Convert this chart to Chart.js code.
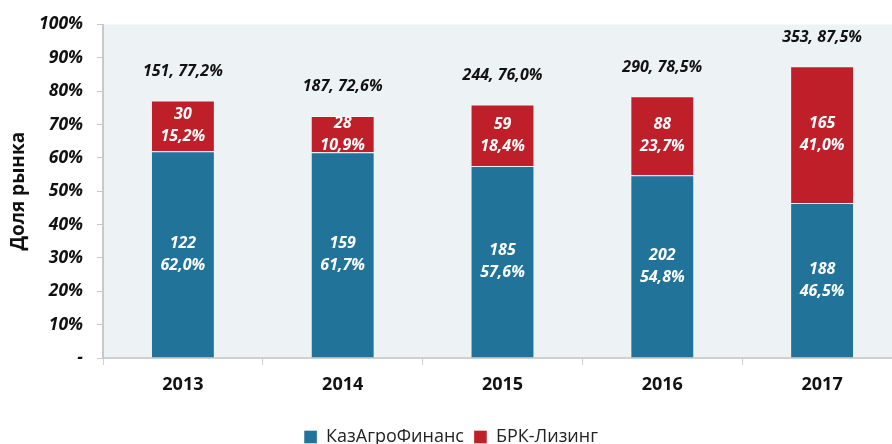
<!DOCTYPE html>
<html lang="ru">
<head>
<meta charset="utf-8" />
<title>Доля рынка — КазАгроФинанс и БРК-Лизинг</title>
<script src="https://cdn.jsdelivr.net/npm/chart.js@4.4.1/dist/chart.umd.min.js"></script>
<style>
  html, body { margin: 0; padding: 0; background: #fff; overflow: hidden; }
  #wrap { width: 902px; height: 456px; position: relative; }
</style>
</head>
<body>
<div id="wrap"><canvas id="c"></canvas></div>
<script>
// данные с картинки
const years = ['2013', '2014', '2015', '2016', '2017'];
const kafShare = [62.0, 61.7, 57.6, 54.8, 46.5];
const brkShare = [15.2, 10.9, 18.4, 23.7, 41.0];
const kafCount = [122, 159, 185, 202, 188];
const brkCount = [30, 28, 59, 88, 165];
const totalCount = [151, 187, 244, 290, 353];
const totalShare = [77.2, 72.6, 76.0, 78.5, 87.5];
const yTicks = [0, 10, 20, 30, 40, 50, 60, 70, 80, 90, 100];

const BLUE = '#21739a';
const RED = '#be1f29';
const FONT = "'Open Sans', 'DejaVu Sans', sans-serif";
const pct = (v) => v.toFixed(1).replace('.', ',') + '%';

const plotBg = {
  id: 'plotBg',
  beforeDraw(chart) {
    const { ctx, chartArea: a } = chart;
    ctx.save();
    ctx.fillStyle = '#edf2f5';
    ctx.fillRect(a.left, a.top, a.right - a.left, a.bottom - a.top);
    ctx.restore();
  },
};

const barLabels = {
  id: 'barLabels',
  afterDatasetsDraw(chart) {
    const { ctx } = chart;
    ctx.save();
    ctx.textAlign = 'center';
    ctx.textBaseline = 'middle';
    ctx.font = `italic bold 16px ${FONT}`;
    ctx.fillStyle = '#fff';
    const counts = [kafCount, brkCount];
    const shares = [kafShare, brkShare];
    chart.data.datasets.forEach((ds, di) => {
      chart.getDatasetMeta(di).data.forEach((bar, i) => {
        const mid = (bar.y + bar.base) / 2;
        ctx.fillText(String(counts[di][i]), bar.x, mid - 11);
        ctx.fillText(pct(shares[di][i]), bar.x, mid + 11);
      });
    });
    ctx.fillStyle = '#111';
    const top = chart.getDatasetMeta(1).data;
    top.forEach((bar, i) => {
      ctx.fillText(`${totalCount[i]}, ${pct(totalShare[i])}`, bar.x, bar.y - 29);
    });
    ctx.restore();
  },
};

new Chart(document.getElementById('c'), {
  type: 'bar',
  data: {
    labels: years,
    datasets: [
      { label: 'КазАгроФинанс', data: kafShare, backgroundColor: BLUE, borderColor: 'rgba(255,255,255,0.35)', borderWidth: 1 },
      { label: 'БРК-Лизинг', data: brkShare, backgroundColor: RED, borderColor: 'rgba(255,255,255,0.35)', borderWidth: 1 },
    ],
  },
  options: {
    responsive: true,
    maintainAspectRatio: false,
    animation: false,
    layout: { padding: { top: 23, left: 0, right: 0, bottom: 0 } },
    datasets: { bar: { categoryPercentage: 1, barPercentage: 0.4 } },
    plugins: {
      tooltip: { enabled: false },
      legend: {
        position: 'bottom',
        labels: {
          boxWidth: 13, boxHeight: 13, padding: 10,
          color: '#222',
          font: { family: FONT, size: 18 },
        },
      },
    },
    scales: {
      x: {
        stacked: true,
        grid: { display: true, drawOnChartArea: false, drawTicks: true, tickLength: 7, color: '#d0d0d0', offset: true },
        border: { display: true, color: '#d0d0d0', width: 2 },
        ticks: { color: '#111', padding: 9, font: { family: FONT, size: 18, weight: 'bold' } },
        afterFit(s) { s.height = 60; },
      },
      y: {
        stacked: true,
        min: 0,
        max: 100,
        afterBuildTicks(s) { s.ticks = yTicks.map((v) => ({ value: v })); },
        grid: { display: true, drawOnChartArea: false, drawTicks: true, tickLength: 6, color: '#c8c8c8' },
        border: { display: true, color: '#c8c8c8', width: 2 },
        ticks: {
          color: '#111',
          padding: 14,
          font: { family: FONT, size: 17.5, weight: 'bold', style: 'italic' },
          callback: (v) => (v === 0 ? '-' : v + '%'),
        },
        title: {
          display: true,
          text: 'Доля рынка',
          color: '#111',
          padding: { top: 7, bottom: 4 },
          font: { family: FONT, size: 19, weight: 'bold' },
        },
        afterFit(s) { s.width = 103; },
      },
    },
  },
  plugins: [plotBg, barLabels],
});
</script>
</body>
</html>
